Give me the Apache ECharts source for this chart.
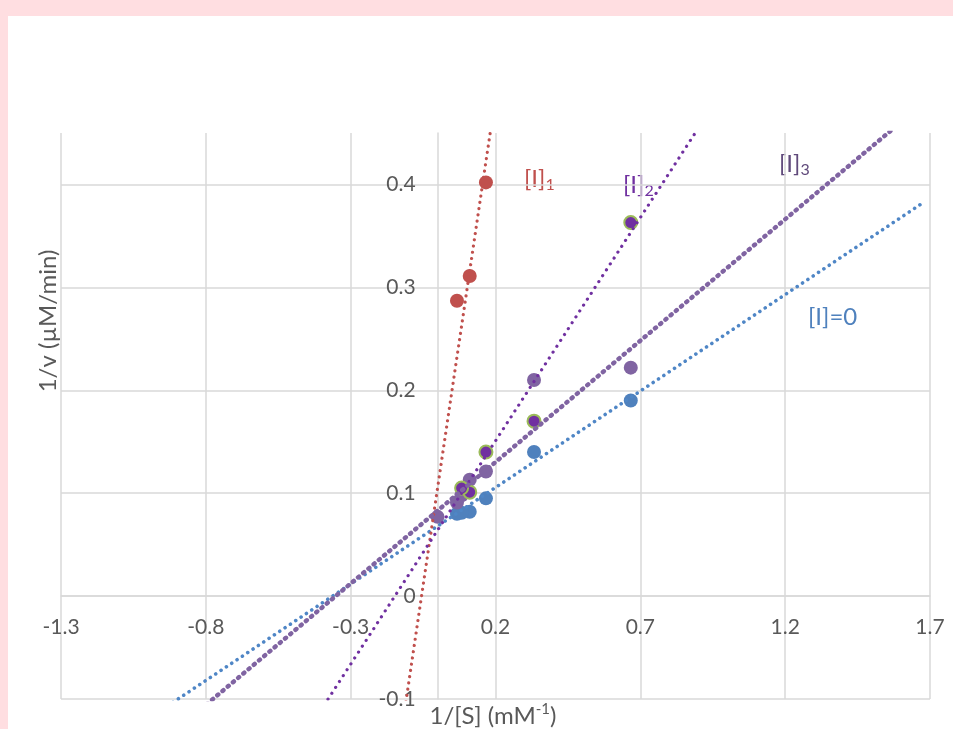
<!DOCTYPE html>
<html><head><meta charset="utf-8">
<script src="https://cdn.jsdelivr.net/npm/echarts@6/dist/echarts.min.js"></script>
<style>
html,body{margin:0;padding:0;background:#FFDEE1;width:953px;height:729px;overflow:hidden}
#panel{position:absolute;left:8px;top:16px;right:0;bottom:0;background:#fff}
#chart{position:absolute;left:0;top:0;width:953px;height:729px}
</style></head><body><div id="panel"></div><div id="chart"></div>
<script>
// ---- data ----
const invS_I0 = [0.667, 0.333, 0.167, 0.111, 0.083, 0.067];
const invV_I0 = [0.190, 0.140, 0.095, 0.082, 0.081, 0.080];
const invS_I1 = [0.167, 0.111, 0.067];
const invV_I1 = [0.402, 0.311, 0.287];
const invS_I2 = [0.667, 0.333, 0.167, 0.111, 0.083];
const invV_I2 = [0.363, 0.170, 0.140, 0.101, 0.105];
const invS_I3 = [0.667, 0.333, 0.167, 0.111, 0.083, 0.067, 0.0];
const invV_I3 = [0.222, 0.210, 0.121, 0.113, 0.098, 0.091, 0.077];
// trendlines (linear): [I]=0, [I]1, [I]2, [I]3
const trendSlope = [0.1875, 1.90, 0.434, 0.236];
const trendIntercept = [0.068, 0.105, 0.064, 0.083];
const trendXRange = [-1.3, 1.667];
const xRange = [-1.3, 1.7];
const xStep = 0.5;
const yRange = [-0.1, 0.45];
const yStep = 0.1;

const zip = (xs, ys) => xs.map((x, i) => [x, ys[i]]);
const trend = i => trendXRange.map(x => [x, trendSlope[i] * x + trendIntercept[i]]);

const FONT = 'Lato';
const GRAY = '#595959';
const GRID = '#D9D9D9';
const G = { left: 61, top: 133, width: 869, height: 566 };
// place axes where the other axis is zero (axes cross at the origin)
const xAxisOffset = -G.height * (0 - yRange[0]) / (yRange[1] - yRange[0]);
const yAxisOffset = -G.width * (0 - xRange[0]) / (xRange[1] - xRange[0]);

const colors = {
  blue: '#4F81BD', red: '#C0504D', dark: '#7030A0', light: '#8064A2', green: '#9BBB59'
};

function lineSeries(i, color, width, dash) {
  return {
    type: 'line', data: trend(i), showSymbol: false, symbol: 'none', silent: true,
    clip: true, z: 4, animation: false,
    lineStyle: { color: color, width: width, type: dash, cap: 'round' }
  };
}

const chart = echarts.init(document.getElementById('chart'), null, { renderer: 'canvas' });
chart.setOption({
  animation: false,
  backgroundColor: 'transparent',
  grid: { left: G.left, top: G.top, width: G.width, height: G.height, outerBoundsMode: 'none' },
  xAxis: {
    type: 'value', min: xRange[0], max: xRange[1], interval: xStep, offset: xAxisOffset,
    axisLine: { show: true, onZero: false, lineStyle: { color: GRID, width: 1.5 } },
    axisTick: { show: false },
    axisLabel: { color: GRAY, fontFamily: FONT, fontSize: 21, margin: 21, showMinLabel: true, showMaxLabel: true },
    splitLine: { show: true, lineStyle: { color: GRID, width: 1.5 } }
  },
  yAxis: {
    type: 'value', min: yRange[0], max: yRange[1], interval: yStep, offset: yAxisOffset,
    axisLine: { show: true, onZero: false, lineStyle: { color: GRID, width: 1.5 } },
    axisTick: { show: false },
    axisLabel: { color: GRAY, fontFamily: FONT, fontSize: 21, margin: 22, showMinLabel: true, showMaxLabel: false },
    splitLine: { show: true, showMaxLine: false, lineStyle: { color: GRID, width: 1.5 } }
  },
  series: [
    { type: 'scatter', data: zip(invS_I0, invV_I0), symbolSize: 14, z: 2,
      itemStyle: { color: colors.blue, opacity: 1 } },
    { type: 'scatter', data: zip(invS_I1, invV_I1), symbolSize: 14, z: 2,
      itemStyle: { color: colors.red, opacity: 1 } },
    { type: 'scatter', data: zip(invS_I3, invV_I3), symbolSize: 14, z: 2,
      itemStyle: { color: colors.light, opacity: 1 } },
    { type: 'scatter', data: zip(invS_I2, invV_I2), symbolSize: 13, z: 3,
      itemStyle: { color: colors.dark, borderColor: colors.green, borderWidth: 2, opacity: 1 } },
    lineSeries(0, '#4F86C6', 3.6, [0.01, 6.4]),
    lineSeries(1, colors.red, 3.2, [0.01, 6.3]),
    lineSeries(2, colors.dark, 3.2, [0.01, 7]),
    lineSeries(3, colors.light, 4.5, [1.2, 5.6])
  ],
  graphic: [
    { type: 'text', x: 48, y: 321, rotation: Math.PI / 2, silent: true,
      style: { text: '1/v (µM/min)', fontFamily: FONT, fontSize: 24, fill: GRAY, align: 'center', verticalAlign: 'middle' } },
    { type: 'text', x: 493, y: 716, silent: true,
      style: { text: '{a|1/[S] (mM}{s|-1}{a|)}', align: 'center', verticalAlign: 'middle',
        rich: { a: { fontFamily: FONT, fontSize: 24, fill: GRAY, color: GRAY, lineHeight: 28, verticalAlign: 'middle' },
                s: { fontFamily: FONT, fontSize: 15, fill: GRAY, color: GRAY, lineHeight: 15, verticalAlign: 'top' } } } },
    { type: 'text', x: 524, y: 179, silent: true,
      style: { text: '{a|[I]}{s|1}', verticalAlign: 'middle',
        rich: { a: { fontFamily: FONT, fontSize: 24, fill: '#C0504D', color: '#C0504D', lineHeight: 28, verticalAlign: 'middle' },
                s: { fontFamily: FONT, fontSize: 16, fill: '#C0504D', color: '#C0504D', lineHeight: 16, verticalAlign: 'bottom' } } } },
    { type: 'text', x: 623, y: 185, silent: true,
      style: { text: '{a|[I]}{s|2}', verticalAlign: 'middle',
        rich: { a: { fontFamily: FONT, fontSize: 24, fill: '#7030A0', color: '#7030A0', lineHeight: 28, verticalAlign: 'middle' },
                s: { fontFamily: FONT, fontSize: 16, fill: '#7030A0', color: '#7030A0', lineHeight: 16, verticalAlign: 'bottom' } } } },
    { type: 'text', x: 779, y: 164, silent: true,
      style: { text: '{a|[I]}{s|3}', verticalAlign: 'middle',
        rich: { a: { fontFamily: FONT, fontSize: 24, fill: '#604A7B', color: '#604A7B', lineHeight: 28, verticalAlign: 'middle' },
                s: { fontFamily: FONT, fontSize: 16, fill: '#604A7B', color: '#604A7B', lineHeight: 16, verticalAlign: 'bottom' } } } },
    { type: 'text', x: 808, y: 317, silent: true,
      style: { text: '[I]=0', fontFamily: FONT, fontSize: 24, fill: '#4F81BD', verticalAlign: 'middle' } }
  ]
});
</script></body></html>
